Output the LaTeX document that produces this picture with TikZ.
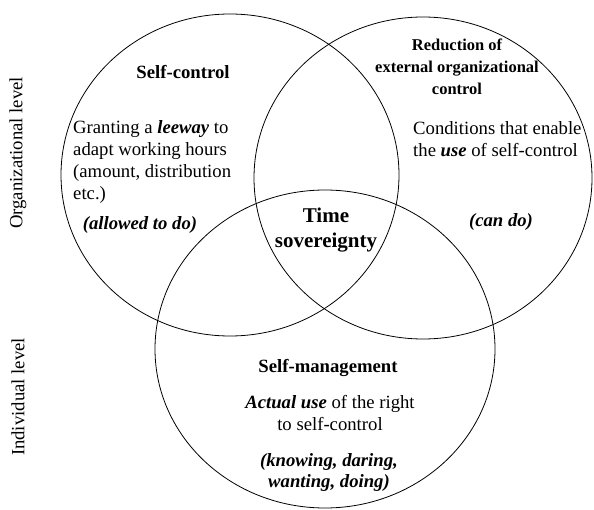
\documentclass[tikz,border=0pt]{standalone}
\usepackage{fontspec}
\setmainfont{Liberation Serif}
\begin{document}
\begin{tikzpicture}[x=1pt,y=-1pt,
  ring/.style={draw=black, line width=0.8pt},
  body/.style={inner sep=0pt, font=\fontsize{18.7}{22}\selectfont},
  head/.style={inner sep=0pt, font=\fontsize{18.7}{22}\selectfont\bfseries},
  smallhead/.style={inner sep=0pt, font=\fontsize{16.5}{22}\selectfont\bfseries},
  core/.style={inner sep=0pt, font=\fontsize{21}{25}\selectfont\bfseries},
  modal/.style={inner sep=0pt, font=\fontsize{18.7}{21}\selectfont\bfseries\itshape},
  level/.style={inner sep=0pt, rotate=90, font=\fontsize{18.7}{22}\selectfont}]
\fill[white] (0,0) rectangle (594,510);
\useasboundingbox (0,0) rectangle (594,510);

% the three overlapping sets
\draw[ring] (230,175) ellipse [x radius=169, y radius=161];
\draw[ring] (423,178) ellipse [x radius=169, y radius=161];
\draw[ring] (325,349) ellipse [x radius=170, y radius=159];

% level labels on the left
\node[level] (orglvl) at (18,153) {Organizational level};
\node[level] (indlvl) at (18,397) {Individual level};

% self-control set (multi-line nodes are anchored at their last baseline)
\node[head, anchor=base] (sc) at (183,79) {Self-control};
\node[body, anchor=base west, align=left] (scbody) at (73,200)
  {Granting a \textbf{\textit{leeway}} to\\adapt working hours\\(amount, distribution\\etc.)};
\node[modal, anchor=base] (allowed) at (140,230) {(allowed to do)};

% reduction of external control set
\node[smallhead, anchor=base, align=center] (red) at (457,95)
  {Reduction of\\external organizational\\control};
\node[body, anchor=base west, align=left] (redbody) at (413,157)
  {Conditions that enable\\the \textbf{\textit{use}} of self-control};
\node[modal, anchor=base] (cando) at (501,227) {(can do)};

% common core
\node[core, anchor=base, align=center] (ts) at (326,248) {Time\\sovereignty};

% self-management set
\node[head, anchor=base] (sm) at (328,372) {Self-management};
\node[body, anchor=base, align=center] (smbody) at (330,430)
  {\textbf{\textit{Actual use}} of the right\\to self-control};
\node[modal, anchor=base, align=center] (know) at (329,487)
  {(knowing, daring,\\wanting, doing)};
\end{tikzpicture}
\end{document}
